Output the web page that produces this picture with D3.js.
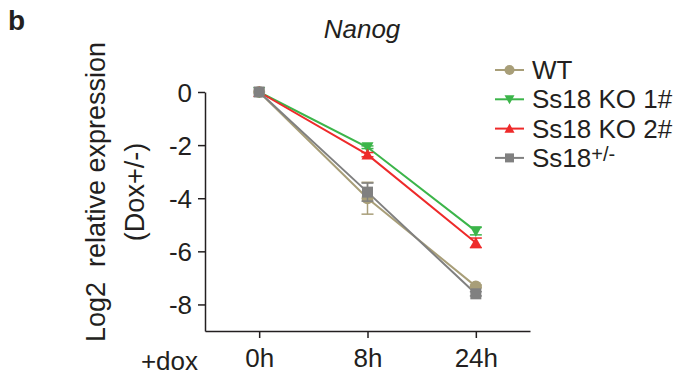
<!DOCTYPE html>
<html lang="en">
<head>
<meta charset="UTF-8">
<title>Nanog</title>
<script src="https://d3js.org/d3.v7.min.js"></script>
<style>
    body { margin: 0; background: #fff; }
    svg text { font-family: "Liberation Sans", Arial, sans-serif; fill: #231f20; }
</style>
</head>
<body>
<div id="chart"></div>
<script>
// time points and series (log2 relative expression, Dox+/-)
const timepoints = ["0h", "8h", "24h"];
const yTicks = [0, -2, -4, -6, -8];

const wt = [0, -4.0, -7.32];
const wtErr = [0, 0.6, 0.05];
const ko1 = [0, -2.08, -5.24];
const ko1Err = [0, 0.05, 0.14];
const ko2 = [0, -2.36, -5.68];
const ko2Err = [0, 0.08, 0.18];
const het = [0, -3.77, -7.6];
const hetErr = [0, 0.34, 0.08];

const series = [
    { name: "WT", values: wt, err: wtErr, color: "#a89e78", symbol: "circle" },
    { name: "Ss18 KO 1#", values: ko1, err: ko1Err, color: "#3cb54a", symbol: "down" },
    { name: "Ss18 KO 2#", values: ko2, err: ko2Err, color: "#ee2a2a", symbol: "up" },
    { name: "Ss18", sup: "+/-", values: het, err: hetErr, color: "#808080", symbol: "square" }
];

const width = 680, height = 376;
const svg = d3.select("#chart").append("svg")
    .attr("width", width)
    .attr("height", height);

const x = d3.scalePoint().domain(timepoints).range([205, 530]).padding(0.5);
const y = d3.scaleLinear().domain([-9, 0]).range([331, 92]);

// markers
function marker(g, sym, size, color) {
    if (sym === "circle") {
        g.append("circle").attr("r", size / 2).attr("fill", color);
    } else if (sym === "square") {
        g.append("rect").attr("x", -size / 2).attr("y", -size / 2)
            .attr("width", size).attr("height", size).attr("fill", color);
    } else {
        const h = size * 0.9, w = size / 2 + 0.5;
        const pts = sym === "up"
            ? [[0, -h / 2 - 1], [w, h / 2], [-w, h / 2]]
            : [[0, h / 2 + 1], [w, -h / 2], [-w, -h / 2]];
        g.append("path").attr("d", "M" + pts.join("L") + "Z").attr("fill", color);
    }
}

// axes
const yAxis = svg.append("g")
    .attr("transform", "translate(205,0)")
    .call(d3.axisLeft(y).tickValues(yTicks).tickFormat(d => String(d))
        .tickSize(7).tickPadding(6).tickSizeOuter(0));
const xAxis = svg.append("g")
    .attr("transform", "translate(0,331)")
    .call(d3.axisBottom(x).tickSize(7).tickPadding(11).tickSizeOuter(0));

[yAxis, xAxis].forEach(a => {
    a.select(".domain").attr("stroke", "#231f20").attr("stroke-width", 1.5);
    a.selectAll(".tick line").attr("stroke", "#231f20").attr("stroke-width", 1.5);
    a.selectAll(".tick text").attr("font-size", 26).attr("fill", "#231f20")
        .style("font-family", "'Liberation Sans', Arial, sans-serif");
});
yAxis.selectAll(".tick text").attr("dy", "0.36em");

svg.append("text")
    .attr("x", 198).attr("y", 370)
    .attr("text-anchor", "end")
    .attr("font-size", 26)
    .text("+dox");

// y label
const yl = svg.append("g").attr("transform", "translate(0,192) rotate(-90)");
yl.append("text").attr("x", 0).attr("y", 105).attr("text-anchor", "middle")
    .attr("font-size", 27).attr("xml:space", "preserve")
    .text("Log2  relative expression");
yl.append("text").attr("x", 0).attr("y", 144).attr("text-anchor", "middle")
    .attr("font-size", 27).text("(Dox+/-)");

// title and panel letter
svg.append("text").attr("x", 362).attr("y", 38).attr("text-anchor", "middle")
    .attr("font-size", 26).attr("font-style", "italic").text("Nanog");
svg.append("text").attr("x", 8).attr("y", 30)
    .attr("font-size", 28).attr("font-weight", "bold").text("b");

// lines
const line = d3.line().x((d, i) => x(timepoints[i])).y(d => y(d));
series.forEach(s => {
    svg.append("path")
        .attr("d", line(s.values))
        .attr("fill", "none")
        .attr("stroke", s.color)
        .attr("stroke-width", 2);
});

// error bars and markers
series.forEach(s => {
    const g = svg.append("g");
    s.values.forEach((v, i) => {
        const cx = x(timepoints[i]);
        if (s.err[i] > 0) {
            const y0 = y(v + s.err[i]), y1 = y(v - s.err[i]);
            g.append("line").attr("x1", cx).attr("x2", cx).attr("y1", y0).attr("y2", y1)
                .attr("stroke", s.color).attr("stroke-width", 1.5);
            [y0, y1].forEach(yy => g.append("line")
                .attr("x1", cx - 6).attr("x2", cx + 6).attr("y1", yy).attr("y2", yy)
                .attr("stroke", s.color).attr("stroke-width", 1.5));
        }
        const m = g.append("g").attr("transform", `translate(${cx},${y(v)})`);
        marker(m, s.symbol, s.symbol === "circle" ? 12 : 11, s.color);
    });
});

// legend
const leg = svg.append("g");
series.forEach((s, i) => {
    const cy = 70 + i * 29.3;
    const row = leg.append("g").attr("transform", `translate(0,${cy})`);
    row.append("line").attr("x1", 495).attr("x2", 524).attr("y1", 0).attr("y2", 0)
        .attr("stroke", s.color).attr("stroke-width", 2);
    const m = row.append("g").attr("transform", "translate(509.5,0)");
    marker(m, s.symbol, s.symbol === "circle" ? 10 : 9, s.color);
    const t = row.append("text").attr("x", 532).attr("y", 9).attr("font-size", 26).text(s.name);
    if (s.sup) {
        t.append("tspan").attr("dy", -6).attr("font-size", 20).text(s.sup);
    }
});
</script>
</body>
</html>
